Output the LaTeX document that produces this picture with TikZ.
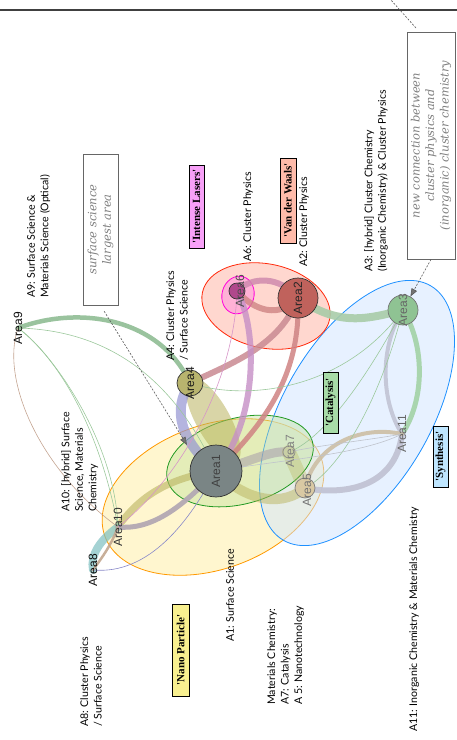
\documentclass[tikz,border=0pt]{standalone}
\usepackage{fontspec}
\newfontfamily\labfont{Lato}
\newfontfamily\areafont{Liberation Sans}
\newfontfamily\tagfont{Liberation Serif}
\newfontfamily\handfont{DejaVu Serif}
\usetikzlibrary{arrows.meta,calc}
\pgfdeclarelayer{bg}
\pgfdeclarelayer{edges}
\pgfsetlayers{bg,edges,main}
\definecolor{a1col}{HTML}{7A8585}
\definecolor{a2col}{HTML}{C0625C}
\definecolor{a3col}{HTML}{8FC393}
\definecolor{a4col}{HTML}{B8B46E}
\definecolor{a5col}{HTML}{D9C9A3}
\definecolor{a6col}{HTML}{B0488C}
\definecolor{a7col}{HTML}{C9CFA5}
\definecolor{sage}{HTML}{8FBC94}
\definecolor{rosec}{HTML}{C98A92}
\definecolor{mauvec}{HTML}{D08AAE}
\definecolor{orchidc}{HTML}{C68FC6}
\definecolor{redrose}{HTML}{CF8383}
\definecolor{greenband}{HTML}{A8CCA8}
\definecolor{greenc}{HTML}{A3D3A6}
\definecolor{graylav}{HTML}{C2C4D4}
\definecolor{tanc}{HTML}{CDBFA5}
\definecolor{mauvegray}{HTML}{A89CAA}
\definecolor{olivec}{HTML}{B9B35E}
\definecolor{tealc}{HTML}{7DBFC0}
\definecolor{grayband}{HTML}{B3A9B3}
\definecolor{tanthin}{HTML}{C2A68E}
\definecolor{bluethin}{HTML}{8888C8}
\definecolor{greenthin}{HTML}{9CC89C}
\definecolor{brownthin}{HTML}{C4A592}
\definecolor{pinkthin}{HTML}{D795C8}
\definecolor{graythin}{HTML}{BFC3CC}
\definecolor{lavc}{HTML}{9494D2}
\definecolor{lasercol}{HTML}{F7A0F7}
\definecolor{vdwcol}{HTML}{FFBBAA}
\definecolor{catcol}{HTML}{A8DCA8}
\definecolor{syncol}{HTML}{BFE6FF}
\definecolor{nanocol}{HTML}{F8F090}
\begin{document}
\begin{tikzpicture}[x=1pt,y=-1pt,
  areacirc/.style={circle, draw=black!80, line width=0.7pt, inner sep=0pt},
  areatxt/.style={rotate=90, font=\areafont\fontsize{12}{12}\selectfont, inner sep=0pt},
  lbl/.style={rotate=90, anchor=north west, align=left, inner sep=0pt, font=\labfont\fontsize{10.6}{13.5}\selectfont},
  tagbox/.style={rotate=90, draw=black, line width=0.6pt, inner sep=1pt, font=\tagfont\bfseries\fontsize{11}{11}\selectfont, minimum height=15pt},
  notebox/.style={rotate=90, draw=black!60, line width=0.7pt, align=center, text=black!50, font=\handfont\itshape\fontsize{11.5}{14.5}\selectfont},
  dasharr/.style={draw=black!65, line width=0.6pt, dash pattern=on 2pt off 1.5pt, -{Triangle[length=8pt,width=6pt,fill=black!55]}},
  band/.style={line cap=round},
  thin/.style={line width=0.6pt}
]
\useasboundingbox (0,0) rectangle (457,740);
\coordinate (tl) at (0,10);
\coordinate (tr) at (457,10);
\draw[black!75, line width=1.2pt] (tl) -- (tr);

% group ellipses
\begin{pgfonlayer}{bg}
\filldraw[fill={rgb,255:red,255;green,238;blue,160}, fill opacity=.5, draw={rgb,255:red,255;green,153;blue,0}, line width=0.8pt, rotate around={20:(213,497)}] (213,497) ellipse [x radius=115pt, y radius=72pt];
\filldraw[fill={rgb,255:red,207;green,228;blue,255}, fill opacity=.5, draw={rgb,255:red,30;green,144;blue,255}, line width=0.8pt, rotate around={60:(357,413)}] (357,413) ellipse [x radius=147pt, y radius=74pt];
\filldraw[fill={rgb,255:red,190;green,225;blue,150}, fill opacity=.4, draw={rgb,255:red,34;green,153;blue,34}, line width=0.8pt, rotate around={15:(240,461)}] (240,461) ellipse [x radius=75pt, y radius=43pt];
\filldraw[fill={rgb,255:red,255;green,176;blue,160}, fill opacity=.5, draw={rgb,255:red,255;green,40;blue,10}, line width=0.8pt, rotate around={-12:(266,306)}] (266,306) ellipse [x radius=65pt, y radius=42pt];
\filldraw[fill={rgb,255:red,255;green,140;blue,220}, fill opacity=.5, draw={rgb,255:red,255;green,0;blue,220}, line width=0.8pt, rotate around={-15:(238,295)}] (238,295) ellipse [x radius=16pt, y radius=19pt];
\end{pgfonlayer}

% area nodes
\node[areacirc, fill=a1col, minimum size=52pt] (a1) at (216,471) {};
\node[areatxt, text=black!75] (a1t) at (a1) {Area1};
\node[areacirc, fill=a2col, minimum size=40pt] (a2) at (298,298) {};
\node[areatxt, text=black!85] (a2t) at (a2) {Area2};
\node[areacirc, fill=a3col, draw=black!55, minimum size=30pt] (a3) at (403,310) {};
\node[areatxt, text=black!60] (a3t) at (a3) {Area3};
\node[areacirc, fill=a4col, minimum size=26pt] (a4) at (190,383) {};
\node[areatxt, text=black!90] (a4t) at (a4) {Area4};
\node[areacirc, fill=a5col, draw=black!50, minimum size=20pt] (a5) at (305,488) {};
\node[areatxt, text=black!55] (a5t) at (307,490) {Area5};
\node[areacirc, fill=a6col, minimum size=16pt] (a6) at (237,291) {};
\node[areatxt, text=black!70] (a6t) at (240,291) {Area6};
\node[areacirc, fill=a7col, draw=black!45, minimum size=12pt] (a7) at (289,452) {};
\node[areatxt, text=black!50] (a7t) at (290,451) {Area7};
\node[areatxt, text=black!95] (a8) at (93,570) {Area8};
\node[areatxt, text=black!95] (a9) at (18,328) {Area9};
\node[areatxt, text=black!80] (a10) at (118,527) {Area10};
\node[areatxt, text=black!60] (a11) at (402,434) {Area11};

% connectors
\begin{pgfonlayer}{edges}
\fill[olivec, opacity=.55, rotate around={-61:(213,420)}] (213,420) ellipse [x radius=48pt, y radius=17pt];
\draw[band, lavc, opacity=.7, line width=10pt] (a4.center) .. controls (172,410) and (180,440) .. (a1.center);
\draw[band, mauvegray, opacity=.55, line width=9pt] (a1.center) .. controls (250,462) and (270,450) .. (a7.center);
\draw[band, olivec, opacity=.5, line width=10pt] (a1.center) .. controls (250,505) and (285,505) .. (a5.center);
\draw[band, olivec, opacity=.35, line width=14pt] (a7.center) -- (a5.center);
\draw[band, sage, opacity=.9, line width=4.5pt] (a9.center) .. controls (80,305) and (160,318) .. (a4.center);
\draw[band, rosec, opacity=.85, line width=6pt] (a4.center) .. controls (235,362) and (280,345) .. (a2.center);
\draw[band, mauvec, opacity=.85, line width=6pt] (a6.center) .. controls (252,276) and (280,276) .. (a2.center);
\draw[band, redrose, opacity=.8, line width=6pt] (a6.center) .. controls (255,312) and (280,318) .. (a2.center);
\draw[band, orchidc, opacity=.8, line width=6pt] (a6.center) .. controls (258,330) and (258,420) .. (a1.center);
\draw[band, redrose, opacity=.85, line width=5pt] (a2.center) .. controls (300,360) and (280,410) .. (a1.center);
\draw[band, greenband, opacity=.9, line width=8pt] (a2.center) .. controls (340,328) and (370,318) .. (a3.center);
\draw[band, greenc, opacity=.9, line width=5pt] (a3.center) .. controls (425,345) and (425,400) .. (a11.center);
\draw[band, graylav, opacity=.9, line width=4pt] (a3.center) .. controls (380,345) and (380,400) .. (a11.center);
\draw[band, graylav, opacity=.95, line width=6pt] (a11.center) .. controls (395,490) and (340,495) .. (a5.center);
\draw[band, tanc, opacity=.9, line width=4pt] (a11.center) .. controls (360,425) and (315,445) .. (a5.center);
\draw[band, olivec, opacity=.6, line width=7pt] (a1.center) .. controls (170,478) and (140,495) .. (a10.center);
\draw[band, tealc, opacity=.7, line width=8pt] (a10.center) .. controls (100,540) and (90,555) .. (a8.center);
\draw[band, grayband, opacity=.95, line width=5pt] (a10.center) .. controls (150,530) and (180,510) .. (a1.center);
\draw[band, tanthin, opacity=.9, line width=2.5pt] (a8.center) .. controls (100,560) and (110,548) .. (a10.center);
\draw[thin, bluethin] (a8.center) .. controls (150,575) and (190,520) .. (a1.center);
\draw[thin, brownthin] (a9.center) .. controls (0,380) and (40,470) .. (a10.center);
\draw[thin, greenthin] (a9.center) .. controls (60,360) and (100,430) .. (a10.center);
\draw[thin, greenthin] (a9.center) .. controls (50,350) and (115,440) .. (a10.center);
\draw[thin, greenthin] (a9.center) .. controls (100,330) and (170,370) .. (a1.center);
\draw[thin, pinkthin] (a6.center) .. controls (235,370) and (190,470) .. (a10.center);
\draw[thin, greenthin] (a3.center) .. controls (340,395) and (240,400) .. (a4.center);
\draw[thin, greenthin] (a3.center) .. controls (360,390) and (320,440) .. (a7.center);
\draw[thin, greenthin] (a3.center) .. controls (380,400) and (340,470) .. (a5.center);
\draw[thin, graythin] (a11.center) .. controls (370,440) and (320,445) .. (a7.center);
\draw[thin, graythin] (a11.center) .. controls (360,455) and (280,460) .. (a1.center);
\end{pgfonlayer}

% labels
\node[lbl] (l9) at (27,298) {A9: Surface Science \&\\Materials Science (Optical)};
\node[lbl] (l4) at (166,361) {A4: Cluster Physics\\/ Surface Science};
\node[lbl] (l6) at (243,262) {A6: Cluster Physics};
\node[lbl] (l2) at (299,267) {A2: Cluster Physics};
\node[lbl] (l3) at (364,272) {A3: [hybrid] Cluster Chemistry\\(Inorganic Chemistry) \& Cluster Physics};
\node[lbl] (l10) at (61,512) {A10: [hybrid] Surface\\Science, Materials\\Chemistry};
\node[lbl] (l8) at (80,727) {A8: Cluster Physics\\/ Surface Science};
\node[lbl] (l1) at (226,642) {A1: Surface Science};
\node[lbl] (l57) at (267,705) {Materials Chemistry:\\A7: Catalysis\\A 5: Nanotechnology};
\node[lbl] (l11) at (409,732) {A11: Inorganic Chemistry \& Materials Chemistry};

% tag boxes
\node[tagbox, fill=lasercol, minimum width=83pt] (tlas) at (196.5,206.5) {\textquotesingle Intense Lasers\textquotesingle};
\node[tagbox, fill=vdwcol, minimum width=85pt, minimum height=16pt] (tvdw) at (288,200.5) {\textquotesingle Van der Waals\textquotesingle};
\node[tagbox, fill=catcol, minimum width=61pt] (tcat) at (330.5,402.5) {\textquotesingle Catalysis\textquotesingle};
\node[tagbox, fill=syncol, minimum width=61pt] (tsyn) at (440.5,456.5) {\textquotesingle Synthesis\textquotesingle};
\node[tagbox, fill=nanocol, minimum width=92pt, minimum height=17pt] (tnano) at (180.5,650) {\textquotesingle Nano Particle\textquotesingle};

% note boxes
\node[notebox, minimum width=151pt, minimum height=35pt] (ss) at (100.5,229.5) {surface science\\largest area};
\node[notebox, minimum width=227pt, minimum height=48pt] (nc) at (431,145.5) {new connection between\\cluster physics and\\(inorganic) cluster chemistry};

\coordinate (sstip) at (187,445);
\draw[dasharr, shorten <=7pt] (ss.west) -- (sstip);
\draw[dasharr] (nc.west) -- (a3);
\coordinate (ncup) at (416,28);
\coordinate (topend) at (391,0);
\draw[black!65, line width=0.6pt, dash pattern=on 2pt off 1.5pt] (ncup) -- (topend);
\end{tikzpicture}
\end{document}
